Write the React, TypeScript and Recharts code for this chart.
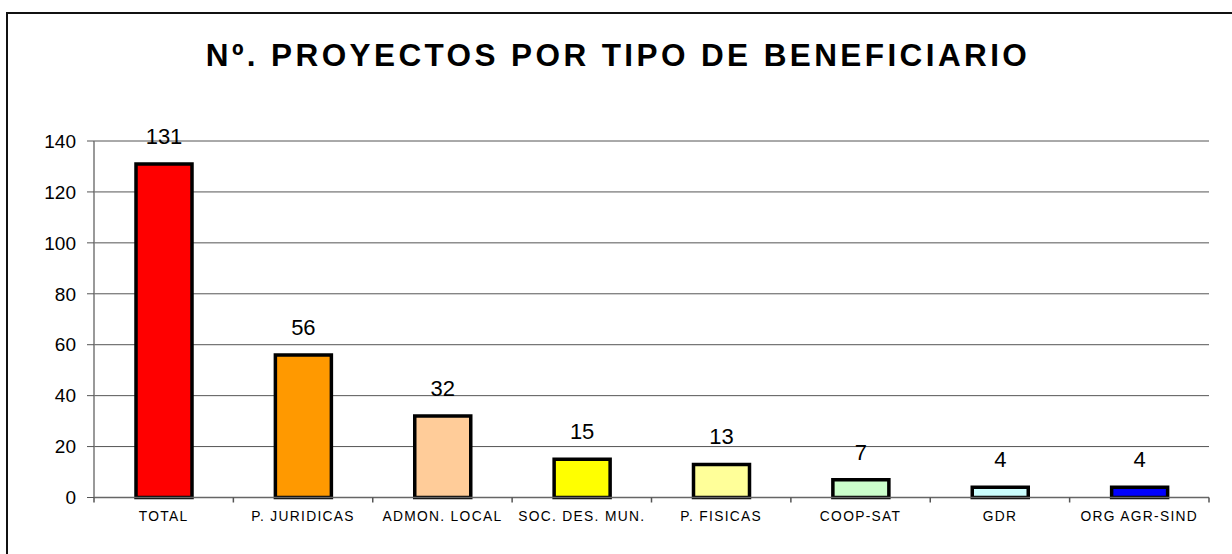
import React from "react";
import { BarChart, Bar, XAxis, YAxis, CartesianGrid, Cell, LabelList } from "recharts";

const categories = ["TOTAL", "P. JURIDICAS", "ADMON. LOCAL", "SOC. DES. MUN.", "P. FISICAS", "COOP-SAT", "GDR", "ORG AGR-SIND"];
const values = [131, 56, 32, 15, 13, 7, 4, 4];
const colors = ["#FF0000", "#FF9900", "#FFCC99", "#FFFF00", "#FFFF99", "#CCFFCC", "#CCFFFF", "#0000FF"];
const yTicks = [0, 20, 40, 60, 80, 100, 120, 140];

const data = categories.map((c, i) => ({ name: c, value: values[i] }));

const FONT = "'Liberation Sans', Arial, sans-serif";
const X_TICK_MARGIN = 14;

const CategoryTick = (props: any) => {
  const { x, y, payload, index } = props;
  const off = payload && typeof payload.offset === "number" ? payload.offset : 0;
  const axisY = y - X_TICK_MARGIN;
  return (
    <g>
      {off > 0 && <line x1={x - off} x2={x - off} y1={axisY} y2={axisY + 5} stroke="#555" strokeWidth={1.5} />}
      {off > 0 && index === categories.length - 1 && (
        <line x1={x + off} x2={x + off} y1={axisY} y2={axisY + 5} stroke="#555" strokeWidth={1.5} />
      )}
      <text x={x} y={y} dy="0.71em" textAnchor="middle" fontSize={13.8} fill="#000" fontFamily={FONT} letterSpacing={1.3}>
        {payload.value}
      </text>
    </g>
  );
};

export default function App() {
  return (
    <div style={{ position: "absolute", left: 0, top: 0, width: 1232, height: 554, overflow: "hidden", background: "#fff", fontFamily: FONT }}>
      <div style={{ position: "absolute", left: 6, top: 12, width: 1300, height: 700, border: "2px solid #111", boxSizing: "border-box" }} />
      <div style={{ position: "absolute", left: 0, top: 37, width: 1232, textAlign: "center", fontWeight: "bold", fontSize: 31.5, letterSpacing: 3.4, paddingLeft: 4, boxSizing: "border-box", color: "#000", lineHeight: "36px" }}>
        Nº. PROYECTOS POR TIPO DE BENEFICIARIO
      </div>
      <div style={{ position: "absolute", left: 0, top: 0 }}>
        <BarChart width={1232} height={554} data={data} margin={{ top: 141, right: 23, bottom: 0.5, left: 0 }}>
          <CartesianGrid vertical={false} stroke="#555" strokeWidth={1} />
          <XAxis
            dataKey="name"
            type="category"
            axisLine={{ stroke: "#666", strokeWidth: 1.5 }}
            tickLine={false}
            tickSize={0}
            tickMargin={X_TICK_MARGIN}
            height={56}
            interval={0}
            tick={<CategoryTick />}
          />
          <YAxis
            domain={[0, 140]}
            ticks={yTicks}
            width={94}
            tickSize={7}
            tickMargin={11}
            axisLine={{ stroke: "#777", strokeWidth: 1.5 }}
            tickLine={{ stroke: "#555" }}
            tick={{ fontSize: 19, fill: "#000", fontFamily: FONT }}
            interval={0}
          />
          <Bar dataKey="value" barSize={56} stroke="#000" strokeWidth={3.5} isAnimationActive={false}>
            {data.map((d, i) => (
              <Cell key={d.name} fill={colors[i]} />
            ))}
            <LabelList dataKey="value" position="top" offset={20} style={{ fontSize: 22, fill: "#000", fontFamily: FONT }} />
          </Bar>
        </BarChart>
      </div>
    </div>
  );
}
